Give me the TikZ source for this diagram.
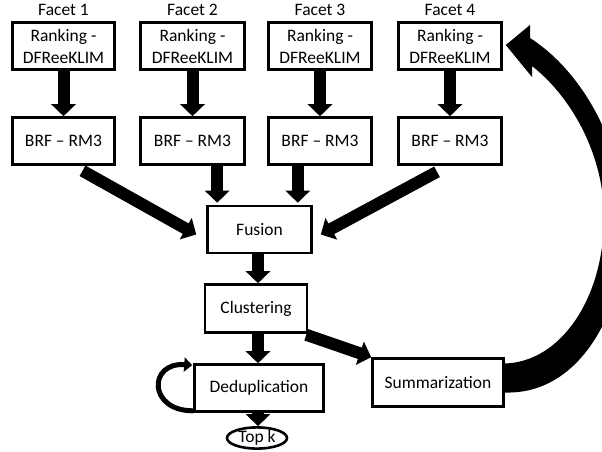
\documentclass[tikz,border=0pt]{standalone}
\usepackage{fontspec}
\setmainfont{Carlito}
\usetikzlibrary{arrows.meta,calc,shapes.geometric}

\begin{document}
\begin{tikzpicture}[x=1pt,y=-1pt,
  txt/.style={font=\fontsize{17.5}{22}\selectfont},
  box/.style={txt,draw,line width=2.6pt,minimum height=47pt,align=center,inner sep=1pt},
  fat/.style={line width=12pt,-{Triangle[width=24pt,length=12pt]}}]
\useasboundingbox (0,0) rectangle (602,452);
\clip (0,0) rectangle (602,452);
% four facets
\foreach \i/\x/\w in {1/63.5/102,2/192.5/104,3/320/103,4/450/103}{
  \node[txt] (facet\i) at (\x,10) {Facet \i};
  \node[box,minimum width=\w] (rank\i) at (\x,46) {Ranking -\\DFReeKLIM};
  \node[box,minimum width=\w] (brf\i) at (\x,141) {BRF -- RM3};
  \draw[fat] (rank\i.south) -- (brf\i.north);
}
\node[box,minimum width=104pt] (fusion) at (259.5,229.5) {Fusion};
\node[box,minimum width=102pt,minimum height=48pt] (clust) at (256,308.5) {Clustering};
\node[box,minimum width=129pt] (dedup) at (259,388) {Deduplication};
\node[box,minimum width=131pt,minimum height=48pt] (summ) at (438,382.5) {Summarization};
\node[txt,draw,ellipse,line width=2.6pt,inner sep=0pt,minimum width=60pt,minimum height=19pt] (topk) at (257,438) {Top k};
% into fusion
\coordinate (inA) at ($(fusion.north west)+(11,-2)$);
\coordinate (inB) at ($(fusion.north east)+(-15,-2)$);
\draw[fat] ($(brf1.south)+(19,5)$) -- ($(fusion.west)+(-10,5)$);
\draw[fat] (brf2.south -| inA) -- (inA);
\draw[fat] (brf3.south -| inB) -- (inB);
\draw[fat] ($(brf4.south)+(-13,6)$) -- ($(fusion.east)+(8,5)$);
% down the chain
\draw[fat] (fusion.south -| 258,0) -- (clust.north -| 258,0);
\draw[fat] (clust.south -| 258,0) -- (dedup.north -| 258,0);
\draw[fat] (dedup.south -| 258,0) -- (topk.north -| 258,0);
\draw[fat] ($(clust.south east)+(-2,1)$) -- (summ.north west);
% loop on deduplication
\draw[line width=5pt,-{Triangle[width=14pt,length=8pt]}]
  ($(dedup.south west)+(0,-2)$) .. controls (148,411) and (148,362) .. ($(dedup.north west)+(-1,2)$);
% back to facet 4
\fill ($(summ.east)+(0,-19)$) .. controls (560,362) and (603,300) .. (604,220)
  .. controls (605,160) and (575,100) .. (532,66)
  -- (532,77) -- ($(rank4.east)+(3,-1)$) -- (530,25) -- (530,38)
  .. controls (580,70) and (622,140) .. (625,220)
  .. controls (628,300) and (585,395) .. ($(summ.east)+(0,10)$) -- cycle;
\end{tikzpicture}
\end{document}
